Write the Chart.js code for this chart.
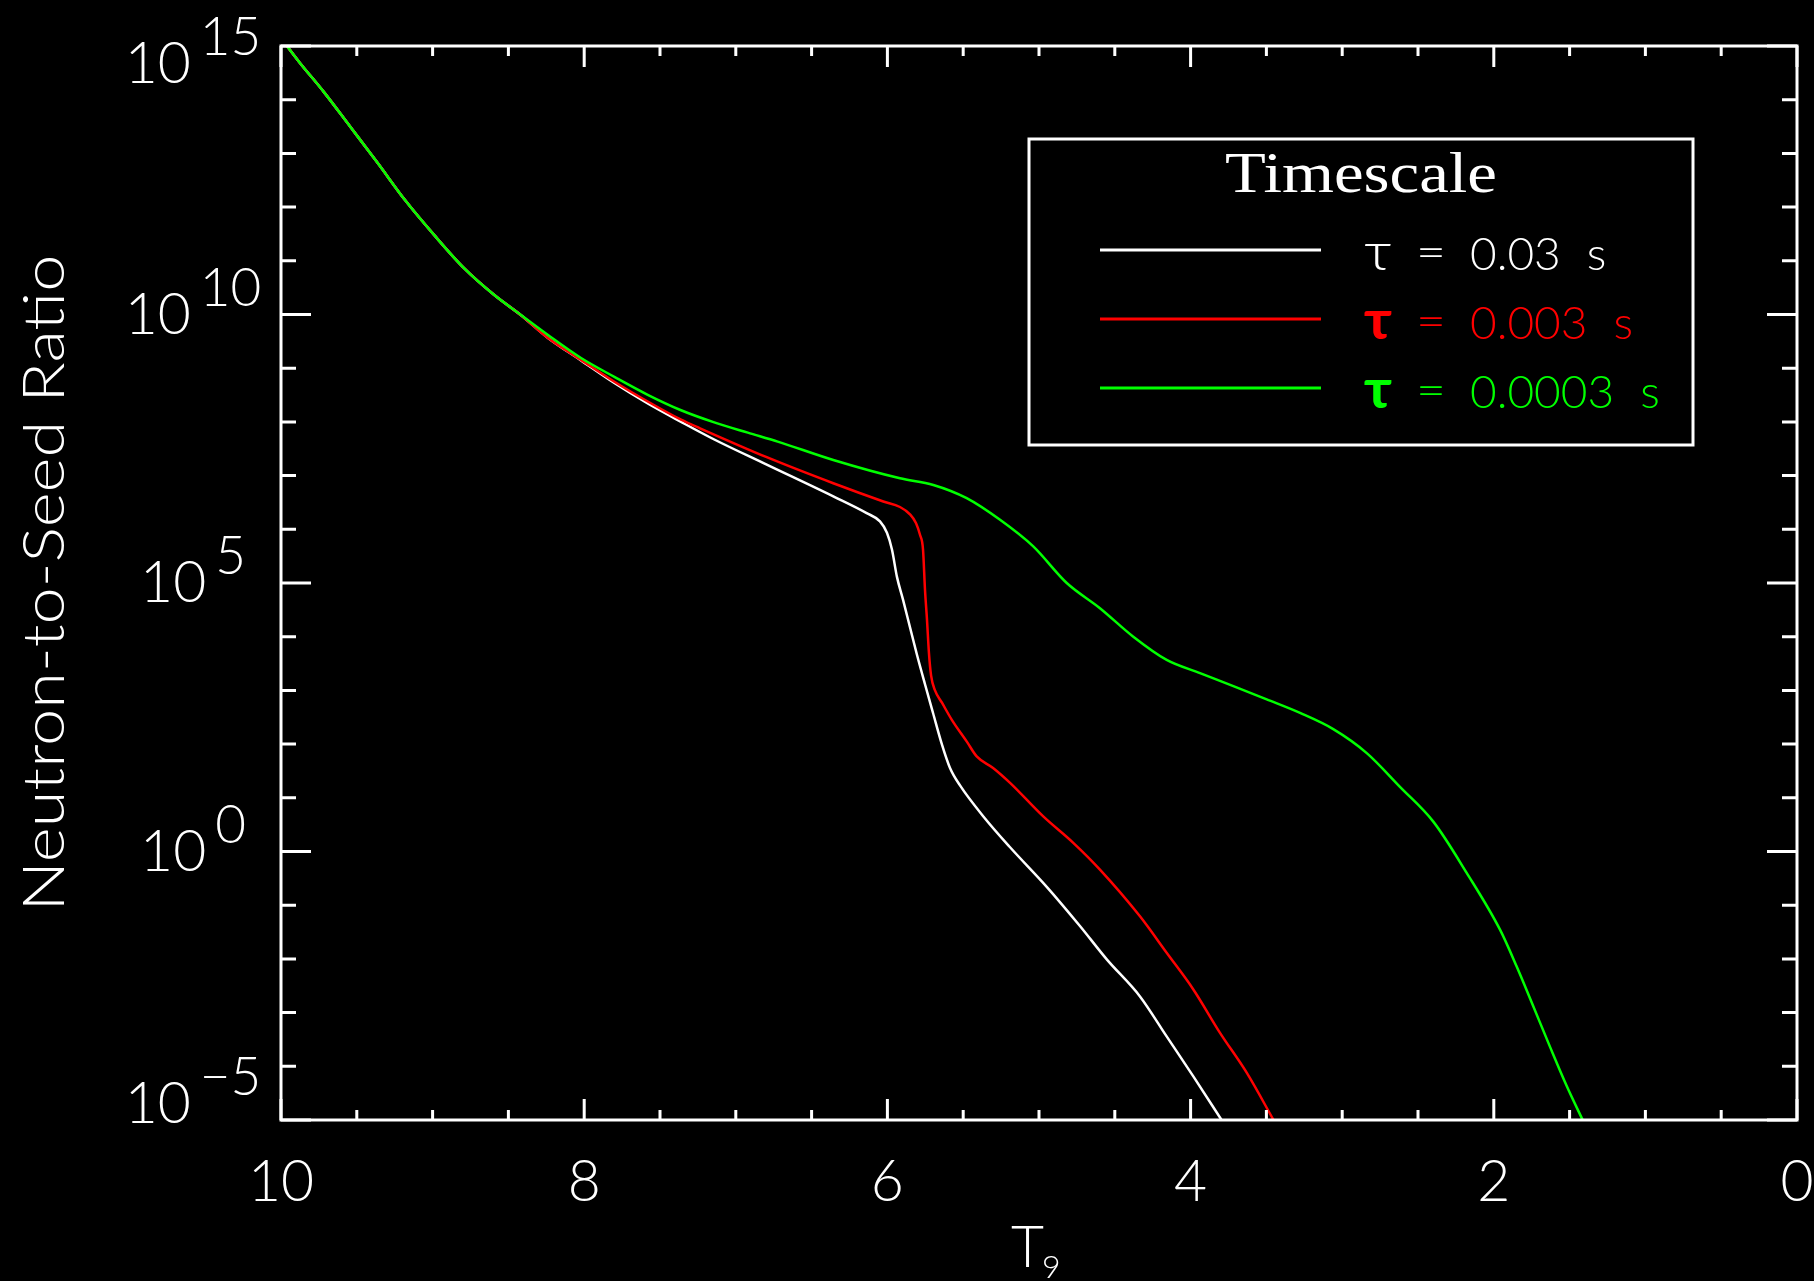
<!DOCTYPE html>
<html>
<head>
<meta charset="utf-8">
<title>Neutron-to-Seed Ratio</title>
<script src="https://cdn.jsdelivr.net/npm/chart.js@4.4.1/dist/chart.umd.min.js"></script>
<style>
    html, body { margin: 0; padding: 0; background: #000; }
    canvas { display: block; }
</style>
</head>
<body>
<canvas id="chart" width="1814" height="1281"></canvas>
<script>
// expansion timescales (s), one curve each
const timescales = ['0.03', '0.003', '0.0003'];

// tau = 0.03 s
const t9Slow = [10.00, 9.879, 9.718, 9.538, 9.362, 9.182, 8.989, 8.791, 8.593, 8.417, 8.241, 8.021, 7.801, 7.581, 7.361, 7.142, 6.796, 6.357, 6.137, 6.049, 6.003, 5.970, 5.937, 5.897, 5.851, 5.805, 5.752, 5.699, 5.640, 5.587, 5.521, 5.367, 5.191, 4.949, 4.730, 4.553, 4.334, 4.158, 3.982, 3.784];
const ratioSlow = [1.4e15, 5.0e14, 1.4e14, 3.0e13, 6.6e12, 1.35e12, 3.0e11, 7.2e10, 2.3e10, 9.7e9, 3.7e9, 1.4e9, 5.3e8, 2.2e8, 1.0e8, 4.7e7, 1.6e7, 4.1e6, 2.0e6, 1.4e6, 8.6e5, 4.2e5, 1.3e5, 4.9e4, 1.5e4, 4.6e3, 1.3e3, 380, 98, 36, 17, 4.5, 1.2, 0.22, 0.041, 9.8e-3, 2.0e-3, 3.6e-4, 6.5e-5, 8.9e-6];

// tau = 0.003 s
const t9Mid = [10.00, 9.879, 9.718, 9.538, 9.362, 9.182, 8.989, 8.791, 8.593, 8.417, 8.241, 8.021, 7.801, 7.581, 7.361, 7.236, 6.796, 6.357, 6.027, 5.917, 5.851, 5.811, 5.785, 5.765, 5.752, 5.739, 5.726, 5.712, 5.686, 5.640, 5.574, 5.475, 5.411, 5.303, 5.191, 4.972, 4.774, 4.598, 4.334, 4.158, 3.982, 3.806, 3.630, 3.443];
const ratioMid = [1.4e15, 5.0e14, 1.4e14, 3.0e13, 6.6e12, 1.35e12, 3.0e11, 7.2e10, 2.3e10, 9.7e9, 3.7e9, 1.43e9, 5.6e8, 2.4e8, 1.1e8, 7.6e7, 2.2e7, 7.2e6, 3.3e6, 2.6e6, 1.9e6, 1.3e6, 7.9e5, 4.2e5, 7.5e4, 2.1e4, 5.0e3, 1.9e3, 1.0e3, 590, 280, 110, 59, 36, 19, 4.5, 1.45, 0.46, 0.062, 0.013, 2.7e-3, 4.2e-4, 7.6e-5, 8.9e-6];

// tau = 0.0003 s
const t9Fast = [10.00, 9.879, 9.718, 9.538, 9.362, 9.182, 8.989, 8.791, 8.593, 8.417, 8.241, 8.021, 7.801, 7.581, 7.361, 7.142, 6.921, 6.724, 6.357, 5.917, 5.697, 5.477, 5.257, 5.038, 4.817, 4.598, 4.378, 4.158, 3.938, 3.718, 3.498, 3.278, 3.059, 2.838, 2.619, 2.399, 2.179, 1.959, 1.849, 1.739, 1.629, 1.519, 1.410];
const ratioFast = [1.4e15, 5.0e14, 1.4e14, 3.0e13, 6.6e12, 1.35e12, 3.0e11, 7.2e10, 2.3e10, 9.8e9, 4.2e9, 1.55e9, 6.9e8, 3.2e8, 1.65e8, 9.8e7, 6.3e7, 4.3e7, 1.95e7, 8.9e6, 6.7e6, 3.8e6, 1.5e6, 4.8e5, 1.0e5, 3.4e4, 1.0e4, 3.7e3, 2.1e3, 1.2e3, 680, 380, 190, 68, 16, 3.6, 0.40, 0.035, 7.2e-3, 1.3e-3, 2.3e-4, 4.3e-5, 9.5e-6];

// axis labels
const xTicks = [10, 8, 6, 4, 2, 0];
const yTickExponents = [15, 10, 5, 0, -5];

const colors = ['#ffffff', '#ff0000', '#00ff00'];
const sansFont = "Lato, 'DejaVu Sans', sans-serif";

function points(t9, ratio) {
    return t9.map((t, i) => ({ x: t, y: ratio[i] }));
}

// stretch text horizontally so it spans the given width
function fitText(c, text, cx, y, width) {
    const w = c.measureText(text).width;
    c.save();
    c.translate(cx, y);
    c.scale(width / w, 1);
    c.textAlign = 'center';
    c.fillText(text, 0, 0);
    c.restore();
}

const framePlugin = {
    id: 'frame',
    beforeDraw(chart) {
        const c = chart.ctx;
        c.save();
        c.fillStyle = '#000';
        c.fillRect(0, 0, chart.width, chart.height);
        c.restore();
    },
    afterDatasetsDraw(chart) {
        const c = chart.ctx;
        const { left, right, top, bottom } = chart.chartArea;
        const xs = chart.scales.x;
        const ys = chart.scales.y;

        c.save();
        c.strokeStyle = '#fff';
        c.fillStyle = '#fff';
        c.lineWidth = 3;
        c.strokeRect(left, top, right - left, bottom - top);

        // inward ticks on all four sides
        c.beginPath();
        for (let t = 0; t <= 10; t += 0.5) {
            const px = xs.getPixelForValue(t);
            const len = xTicks.includes(t) ? 21 : 10;
            c.moveTo(px, bottom); c.lineTo(px, bottom - len);
            c.moveTo(px, top); c.lineTo(px, top + len);
        }
        for (let e = -5; e <= 15; e++) {
            const py = ys.getPixelForValue(Math.pow(10, e));
            const len = yTickExponents.includes(e) ? 30 : 15;
            c.moveTo(left, py); c.lineTo(left + len, py);
            c.moveTo(right, py); c.lineTo(right - len, py);
        }
        c.stroke();

        // x tick labels
        c.font = '300 57px ' + sansFont;
        c.textAlign = 'center';
        c.textBaseline = 'alphabetic';
        xTicks.forEach(t => {
            c.fillText(String(t), xs.getPixelForValue(t), bottom + 81);
        });

        // y tick labels as 10 with a raised exponent
        c.textAlign = 'left';
        yTickExponents.forEach(e => {
            const py = ys.getPixelForValue(Math.pow(10, e));
            const base = Math.min(Math.max(py + 19, top + 37), bottom + 3);
            const exp = e < 0 ? '\u2212' + Math.abs(e) : String(e);
            c.font = '300 57px ' + sansFont;
            const wb = c.measureText('10').width;
            c.font = '300 53px ' + sansFont;
            const we = c.measureText(exp).width;
            const x0 = 193 - (wb + 9 + we) / 2;
            c.font = '300 57px ' + sansFont;
            c.fillText('10', x0, base);
            c.font = '300 53px ' + sansFont;
            c.fillText(exp, x0 + wb + 9, base - 28);
        });

        // axis titles
        c.font = '300 57px ' + sansFont;
        c.save();
        c.translate(64, (top + bottom) / 2);
        c.rotate(-Math.PI / 2);
        fitText(c, 'Neutron-to-Seed Ratio', 0, 0, 657);
        c.restore();

        c.textAlign = 'left';
        c.fillText('T', 1011, 1267);
        c.font = '300 32px ' + sansFont;
        c.fillText('9', 1042, 1278);

        // legend box
        c.strokeRect(1029, 139, 664, 306);
        c.font = "56px 'Liberation Serif', serif";
        fitText(c, 'Timescale', 1361, 192, 272);

        timescales.forEach((ts, i) => {
            const ly = 250 + i * 69;
            c.strokeStyle = colors[i];
            c.fillStyle = colors[i];
            c.lineWidth = 3;
            c.beginPath();
            c.moveTo(1100, ly);
            c.lineTo(1321, ly);
            c.stroke();

            c.font = (i === 0 ? '300' : '700') + ' 54px ' + sansFont;
            fitText(c, '\u03c4', 1378, ly + 20, 28);
            c.font = '300 46px ' + sansFont;
            fitText(c, '=', 1431, ly + 18, 30);
            c.textAlign = 'left';
            c.fillText(ts, 1470, ly + 20);
            const w = c.measureText(ts).width;
            c.fillText('s', 1470 + w + 26, ly + 20);
        });
        c.restore();
    }
};

const ctx = document.querySelector('#chart').getContext('2d');
const chart = new Chart(ctx, {
    type: 'scatter',
    data: {
        datasets: [{
            label: '\u03c4 = ' + timescales[0] + ' s',
            data: points(t9Slow, ratioSlow),
            borderColor: colors[0],
            order: 2
        },
        {
            label: '\u03c4 = ' + timescales[1] + ' s',
            data: points(t9Mid, ratioMid),
            borderColor: colors[1],
            order: 1
        },
        {
            label: '\u03c4 = ' + timescales[2] + ' s',
            data: points(t9Fast, ratioFast),
            borderColor: colors[2],
            order: 0
        }]
    },
    options: {
        responsive: false,
        animation: false,
        devicePixelRatio: 1,
        layout: {
            padding: { left: 281, top: 46, right: 17, bottom: 161 }
        },
        datasets: {
            scatter: {
                showLine: true,
                pointRadius: 0,
                borderWidth: 2.5,
                cubicInterpolationMode: 'monotone'
            }
        },
        scales: {
            x: { type: 'linear', min: 0, max: 10, reverse: true, display: false },
            y: { type: 'logarithmic', min: 1e-5, max: 1e15, display: false }
        },
        plugins: {
            legend: { display: false },
            tooltip: { enabled: false }
        }
    },
    plugins: [framePlugin]
});
</script>
</body>
</html>
